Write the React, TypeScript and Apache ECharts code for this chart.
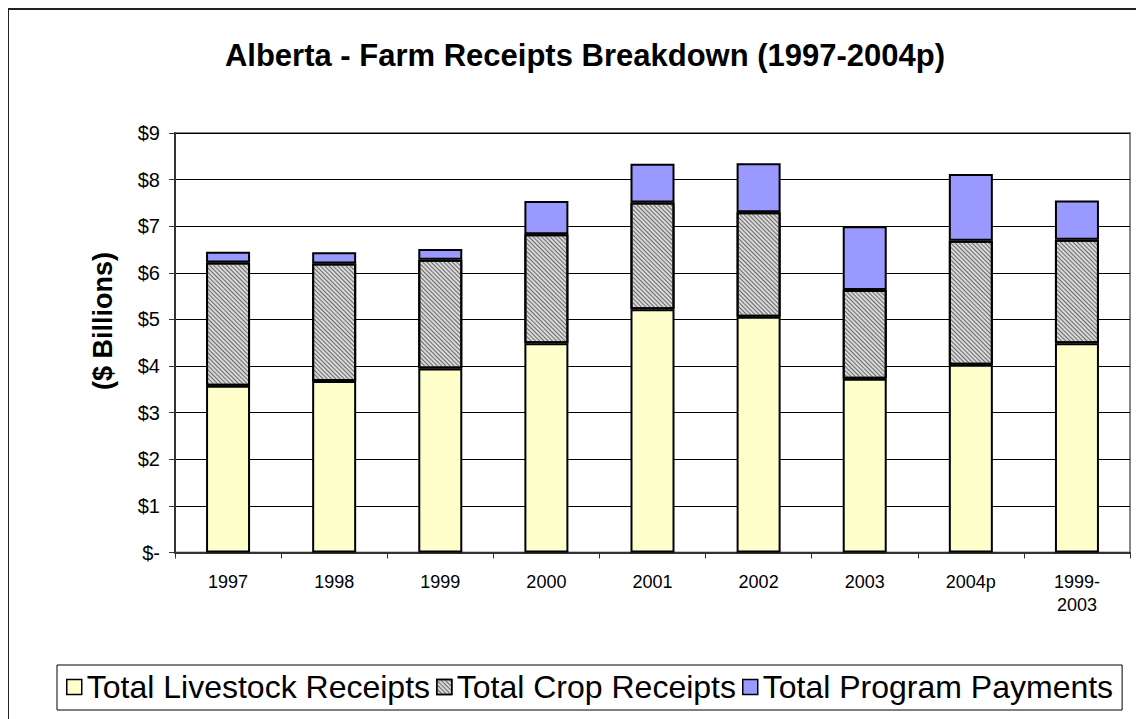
import React, { useEffect, useRef } from "react";
import * as echarts from "echarts";

const categories = ["1997", "1998", "1999", "2000", "2001", "2002", "2003", "2004p", "1999-\n2003"];
const livestock = [3.58, 3.68, 3.95, 4.49, 5.22, 5.06, 3.73, 4.03, 4.49];
const crop = [2.64, 2.52, 2.33, 2.34, 2.29, 2.24, 1.9, 2.66, 2.22];
const program = [0.23, 0.24, 0.23, 0.71, 0.83, 1.05, 1.37, 1.43, 0.84];
const yTicks = [0, 1, 2, 3, 4, 5, 6, 7, 8, 9];

const FONT = "'Liberation Sans', Arial, sans-serif";

export default function App() {
  const ref = useRef<HTMLDivElement>(null);
  useEffect(() => {
    if (!ref.current) return;
    const chart = echarts.init(ref.current, null, { renderer: "svg" });
    const barStyle = (color: string) => ({ color, borderColor: "#000", borderWidth: 2 });
    chart.setOption({
      animation: false,
      backgroundColor: "#fff",
      textStyle: { fontFamily: FONT },
      title: {
        text: "Alberta - Farm Receipts Breakdown (1997-2004p)",
        left: 572,
        top: 27,
        textAlign: "center",
        textStyle: { fontFamily: FONT, fontSize: 31, fontWeight: "bold", color: "#000" },
      },
      graphic: [
        {
          type: "rect",
          shape: { x: 0, y: 1, width: 1300, height: 900 },
          style: { fill: "none", stroke: "#222", lineWidth: 2 },
          silent: true,
          z: 100,
        },
        {
          type: "text",
          x: 95,
          y: 313,
          rotation: Math.PI / 2,
          style: {
            text: "($ Billions)",
            fontFamily: FONT,
            fontSize: 27,
            fontWeight: "bold",
            fill: "#000",
            align: "center",
            verticalAlign: "middle",
          },
        },
      ],
      grid: { left: 167, top: 125, right: 14, bottom: 166.5, show: true, borderColor: "#888", borderWidth: 2 },
      legend: {
        left: 49,
        top: 657,
        orient: "horizontal",
        icon: "rect",
        itemWidth: 15,
        itemHeight: 15,
        itemGap: 6,
        padding: [6, 9, 7, 9],
        borderColor: "#000",
        borderWidth: 1,
        itemStyle: { borderColor: "#000", borderWidth: 1.5 },
        textStyle: { fontFamily: FONT, fontSize: 32, color: "#000", lineHeight: 32 },
        data: ["Total Livestock Receipts", "Total Crop Receipts", "Total Program Payments"],
      },
      xAxis: {
        type: "category",
        data: categories,
        axisLine: { lineStyle: { color: "#333", width: 2 } },
        axisTick: { show: true, length: 6, lineStyle: { color: "#333" } },
        axisLabel: { fontFamily: FONT, fontSize: 18, lineHeight: 23, color: "#000", margin: 18, interval: 0 },
      },
      yAxis: {
        type: "value",
        min: 0,
        max: 9,
        interval: 1,
        axisLine: { show: true, lineStyle: { color: "#333", width: 2 } },
        axisTick: { show: true, length: 6, lineStyle: { color: "#333" } },
        axisLabel: {
          fontFamily: FONT,
          fontSize: 20,
          color: "#000",
          margin: 15,
          formatter: (v: number) => (yTicks.includes(v) ? (v === 0 ? "$-" : "$" + v) : ""),
        },
        splitLine: { show: true, lineStyle: { color: "#000", width: 1 } },
      },
      series: [
        {
          name: "Total Livestock Receipts",
          type: "bar",
          stack: "total",
          barWidth: 44,
          data: livestock,
          itemStyle: barStyle("#ffffcc"),
        },
        {
          name: "Total Crop Receipts",
          type: "bar",
          stack: "total",
          barWidth: 44,
          data: crop,
          itemStyle: {
            ...barStyle("#d8d8d8"),
            decal: {
              symbol: "rect",
              symbolSize: 1,
              dashArrayX: [1, 0],
              dashArrayY: [1, 2],
              rotation: Math.PI / 4,
              color: "#6a6a6a",
            },
          },
        },
        {
          name: "Total Program Payments",
          type: "bar",
          stack: "total",
          barWidth: 44,
          data: program,
          itemStyle: barStyle("#9999ff"),
        },
      ],
    });
    return () => chart.dispose();
  }, []);
  return <div ref={ref} style={{ width: 1136, height: 711 }} />;
}
